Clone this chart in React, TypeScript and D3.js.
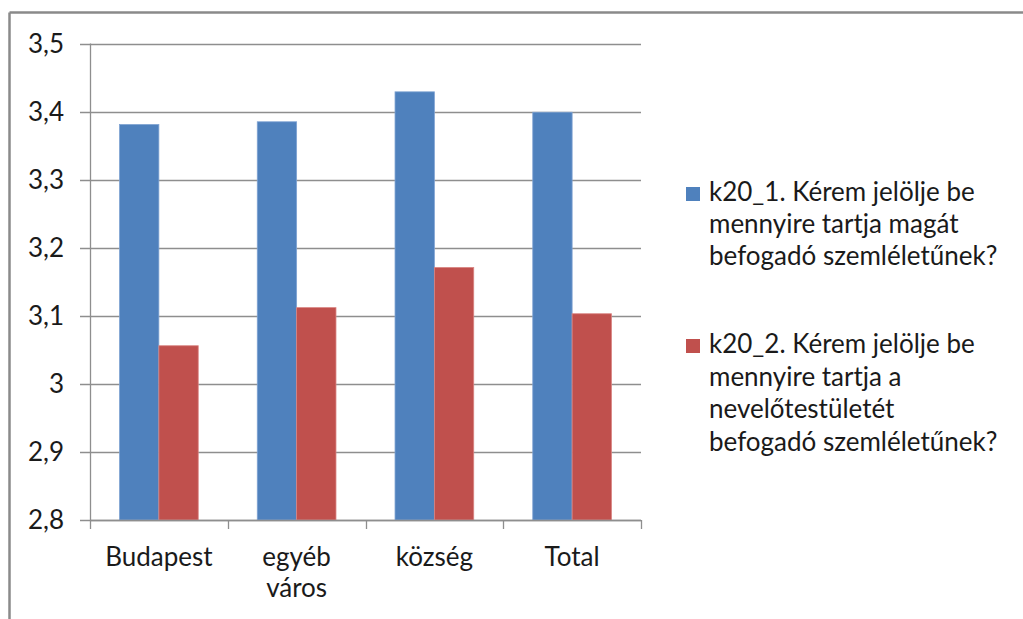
import React from "react";
import * as d3 from "d3";

const categories = ["Budapest", "egyéb város", "község", "Total"];
const seriesNames = ["k20_1", "k20_2"];
const k20_1 = [3.381, 3.385, 3.429, 3.399];
const k20_2 = [3.056, 3.112, 3.171, 3.103];
const yTicks = [2.8, 2.9, 3.0, 3.1, 3.2, 3.3, 3.4, 3.5];
const legendLines = [
  ["k20_1. Kérem jelölje be", "mennyire tartja magát", "befogadó szemléletűnek?"],
  ["k20_2. Kérem jelölje be", "mennyire tartja a", "nevelőtestületét", "befogadó szemléletűnek?"],
];
const colors = ["#4F81BD", "#C0504D"];
const strokes = ["#7fa3d2", "#d98583"];

const W = 1023;
const H = 619;
const FONT = "Lato, 'Noto Sans', sans-serif";
const FS = 26;

export default function App() {
  const plot = { left: 90, right: 641, top: 43.5, bottom: 520 };
  const y = d3.scaleLinear().domain([2.8, 3.5]).range([plot.bottom, plot.top]);
  const x0 = d3.scaleBand<string>().domain(categories).range([plot.left, plot.right]).padding(0);
  const x1 = d3
    .scaleBand<string>()
    .domain(seriesNames)
    .range([0, x0.bandwidth()])
    .paddingInner(0)
    .paddingOuter(0.75);
  const series = [k20_1, k20_2];
  const fmt = (v: number) => (Math.round(v * 10) / 10 === Math.round(v) ? String(Math.round(v)) : v.toFixed(1).replace(".", ","));
  const gridColor = "#8e8e8e";
  const boundaries = categories.map((c) => x0(c) as number).concat([plot.right]);

  const legendBlocks = [
    { baselines: [201, 233, 265] },
    { baselines: [353, 386, 418, 451] },
  ];

  return (
    <svg width={W} height={H} style={{ position: "absolute", left: 0, top: 0, background: "#fff" }} fontFamily={FONT}>
      <rect x={0} y={0} width={W} height={H} fill="#fff" />
      {/* outer frame */}
      <line x1={9.5} y1={12.5} x2={W} y2={12.5} stroke="#8a8a8a" strokeWidth={2.5} />
      <line x1={9.5} y1={12.5} x2={9.5} y2={H} stroke="#8a8a8a" strokeWidth={2.5} />

      {/* gridlines and y ticks */}
      {yTicks.map((t) => (
        <g key={t}>
          <line x1={80} x2={plot.right} y1={Math.round(y(t)) + 0.5} y2={Math.round(y(t)) + 0.5} stroke={gridColor} strokeWidth={1.3} />
          <text x={64} y={y(t)} dy="0.36em" textAnchor="end" fontSize={FS} fill="#1a1a1a">
            {fmt(t)}
          </text>
        </g>
      ))}
      {/* y axis */}
      <line x1={90.5} x2={90.5} y1={plot.top} y2={plot.bottom} stroke={gridColor} strokeWidth={1.3} />

      {/* bars */}
      {categories.map((c, i) => (
        <g key={c} transform={`translate(${x0(c)},0)`}>
          {series.map((s, j) => (
            <rect
              key={j}
              x={x1(seriesNames[j]) as number}
              y={y(s[i])}
              width={x1.bandwidth()}
              height={plot.bottom - y(s[i])}
              fill={colors[j]}
              stroke={strokes[j]}
              strokeWidth={0.8}
            />
          ))}
        </g>
      ))}

      {/* x axis */}
      <line x1={plot.left} x2={plot.right} y1={plot.bottom + 0.5} y2={plot.bottom + 0.5} stroke={gridColor} strokeWidth={1.3} />
      {boundaries.map((b, i) => (
        <line key={i} x1={Math.round(b) + 0.5} x2={Math.round(b) + 0.5} y1={plot.bottom} y2={plot.bottom + 9} stroke={gridColor} strokeWidth={1.3} />
      ))}
      {categories.map((c) => {
        const cx = (x0(c) as number) + x0.bandwidth() / 2;
        const lines = c.split(" ");
        return (
          <text key={c} x={cx} y={566} textAnchor="middle" fontSize={FS} fill="#1a1a1a">
            {lines.map((l, k) => (
              <tspan key={k} x={cx} dy={k === 0 ? 0 : 31}>
                {l}
              </tspan>
            ))}
          </text>
        );
      })}

      {/* legend */}
      {legendLines.map((lines, j) => {
        const bl = legendBlocks[j].baselines;
        return (
          <g key={j}>
            <rect x={686} y={bl[0] - 14} width={14} height={14} fill={colors[j]} />
            {lines.map((l, k) => (
              <text key={k} x={709} y={bl[k]} fontSize={FS} fill="#1a1a1a">
                {l}
              </text>
            ))}
          </g>
        );
      })}
    </svg>
  );
}
